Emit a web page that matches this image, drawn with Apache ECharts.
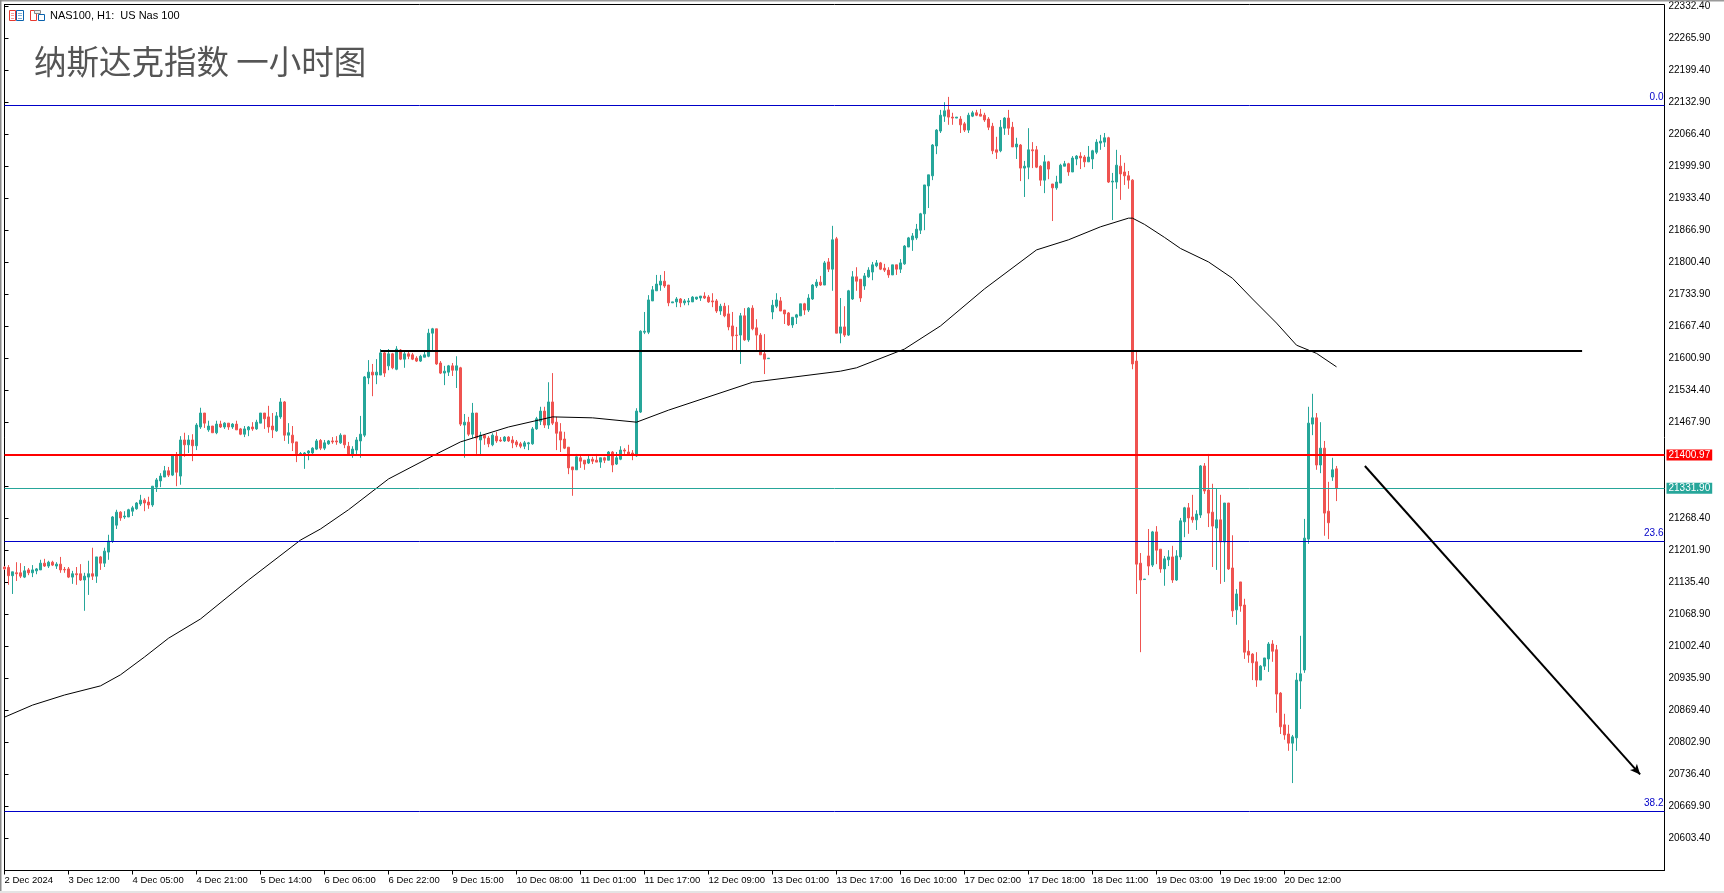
<!DOCTYPE html>
<html><head><meta charset="utf-8">
<style>html,body{margin:0;padding:0;background:#fff;overflow:hidden}#c{width:1724px;height:893px}</style>
<script src="https://cdn.jsdelivr.net/npm/echarts@6/dist/echarts.min.js"></script>
</head><body><div id="c"></div>
<script>
const opens=[
21168,21167,21150,21156,21156,21147,21162,21156,21160,21162,
21176,21170,21178,21170,21174,21163,21164,21147,21154,21154,
21141,21147,21154,21149,21189,21176,21199,21222,21255,21282,
21272,21272,21284,21289,21299,21307,21303,21297,21334,21347,
21355,21368,21359,21399,21357,21432,21422,21432,21420,21459,
21488,21453,21461,21447,21465,21459,21467,21459,21465,21455,
21444,21453,21459,21455,21467,21488,21480,21461,21451,21480,
21511,21442,21442,21428,21402,21402,21405,21405,21413,21431,
21415,21424,21430,21430,21426,21442,21419,21403,21411,21430,
21442,21561,21573,21567,21567,21613,21586,21611,21579,21619,
21600,21611,21609,21602,21596,21604,21606,21654,21663,21592,
21571,21573,21586,21577,21582,21463,21469,21444,21488,21432,
21442,21436,21422,21440,21432,21430,21438,21432,21428,21424,
21419,21424,21424,21455,21471,21492,21463,21511,21469,21449,
21434,21417,21376,21370,21395,21390,21384,21392,21390,21386,
21395,21390,21407,21382,21392,21411,21407,21405,21399,21490,
21656,21656,21721,21742,21754,21762,21754,21717,21719,21725,
21717,21719,21719,21725,21727,21731,21729,21721,21721,21700,
21710,21694,21669,21650,21650,21690,21640,21706,21665,21650,
21611,21601,21698,21710,21721,21702,21696,21671,21687,21690,
21715,21702,21725,21752,21760,21754,21802,21787,21850,21654,
21667,21650,21725,21771,21766,21752,21771,21781,21794,21800,
21789,21785,21775,21796,21787,21798,21833,21848,21852,21868,
21902,21960,21981,22043,22074,22105,22118,22103,22101,22099,
22089,22076,22105,22112,22109,22107,22099,22084,22035,22033,
22080,22101,22082,22041,22045,21997,21999,22035,22035,22001,
21972,22010,21964,21956,21966,22001,22006,21989,22016,22022,
22020,22010,22016,22030,22049,22051,22060,21968,21968,22001,
21989,21981,21972,21596,21176,21142,21191,21172,21241,21205,
21164,21183,21189,21141,21189,21262,21291,21272,21266,21276,
21378,21328,21282,21249,21266,21220,21301,21166,21079,21137,
21089,20993,20987,20971,20933,20962,20977,21008,20996,20906,
20840,20821,20802,20813,20931,20954,21226,21465,21478,21380,
21415,21284,21355,21372];
const closes=[
21164,21150,21158,21154,21149,21160,21156,21162,21164,21176,
21170,21178,21172,21174,21162,21162,21147,21154,21152,21141,
21149,21154,21149,21189,21176,21201,21222,21272,21282,21270,
21274,21287,21291,21301,21307,21301,21297,21336,21349,21357,
21368,21359,21399,21365,21432,21422,21432,21420,21463,21488,
21467,21461,21447,21465,21459,21467,21459,21465,21453,21444,
21455,21459,21455,21469,21488,21476,21459,21453,21482,21511,
21442,21447,21426,21403,21404,21405,21409,21415,21430,21415,
21426,21430,21428,21428,21442,21422,21403,21413,21432,21444,
21563,21573,21567,21573,21613,21571,21611,21582,21621,21600,
21611,21606,21600,21596,21606,21609,21654,21663,21590,21571,
21575,21586,21577,21586,21465,21469,21444,21488,21436,21442,
21436,21424,21442,21430,21430,21438,21430,21426,21422,21419,
21426,21426,21455,21476,21492,21463,21511,21467,21446,21432,
21415,21374,21370,21397,21388,21382,21392,21388,21386,21395,
21390,21407,21380,21395,21411,21409,21401,21401,21492,21658,
21658,21723,21744,21756,21762,21752,21717,21719,21725,21717,
21721,21721,21729,21729,21731,21727,21719,21719,21700,21710,
21690,21667,21648,21649,21690,21640,21706,21663,21650,21609,
21600,21602,21712,21723,21700,21694,21671,21687,21692,21715,
21702,21727,21754,21760,21754,21800,21787,21848,21654,21667,
21650,21742,21771,21762,21727,21773,21785,21796,21800,21787,
21785,21775,21796,21787,21800,21835,21852,21856,21870,21902,
21962,21983,22045,22076,22107,22116,22103,22101,22103,22087,
22076,22107,22112,22107,22105,22097,22082,22033,22030,22082,
22101,22080,22041,22047,21997,22001,22035,22033,21999,21972,
22010,21995,21956,21968,22003,22006,21989,22018,22022,22018,
22010,22020,22033,22051,22053,22060,21968,21970,22003,21985,
21981,21972,21590,21174,21141,21143,21170,21241,21203,21164,
21185,21189,21141,21191,21264,21291,21270,21266,21278,21378,
21326,21280,21253,21266,21220,21301,21164,21077,21112,21087,
20991,20985,20969,20933,20962,20979,21008,20993,20904,20836,
20819,20802,20815,20933,20946,21228,21467,21478,21380,21415,
21280,21260,21370,21332];
const highs=[
21170,21172,21158,21178,21176,21170,21166,21172,21166,21183,
21185,21181,21181,21178,21189,21168,21168,21160,21168,21174,
21156,21181,21208,21189,21191,21208,21235,21274,21287,21284,
21284,21289,21295,21303,21318,21311,21314,21336,21353,21363,
21378,21376,21399,21407,21440,21447,21442,21444,21467,21499,
21488,21472,21461,21472,21472,21469,21467,21467,21472,21457,
21461,21461,21469,21474,21488,21488,21503,21488,21490,21519,
21513,21467,21461,21428,21407,21407,21411,21417,21434,21434,
21432,21432,21438,21440,21446,21442,21428,21419,21438,21482,
21565,21598,21590,21600,21621,21615,21621,21613,21627,21621,
21615,21617,21613,21606,21609,21619,21663,21665,21663,21596,
21586,21588,21592,21606,21584,21486,21480,21509,21488,21449,
21444,21440,21446,21449,21438,21440,21440,21440,21432,21428,
21430,21428,21459,21480,21501,21501,21552,21571,21480,21467,
21449,21417,21376,21403,21401,21390,21401,21397,21403,21395,
21397,21409,21409,21407,21419,21415,21422,21411,21498,21660,
21698,21733,21752,21775,21775,21783,21754,21719,21729,21727,
21725,21727,21731,21729,21731,21739,21733,21737,21725,21715,
21717,21712,21698,21667,21696,21706,21708,21712,21683,21654,
21652,21602,21723,21737,21729,21702,21698,21687,21694,21715,
21717,21735,21756,21766,21773,21804,21810,21877,21854,21727,
21710,21744,21783,21791,21766,21779,21791,21802,21806,21802,
21798,21791,21796,21796,21808,21837,21854,21862,21881,21904,
21962,21983,22047,22078,22118,22134,22145,22112,22103,22105,
22093,22112,22116,22118,22120,22112,22103,22091,22062,22097,
22103,22118,22093,22060,22047,22012,22080,22051,22043,22003,
22024,22012,21964,21981,22006,22012,22008,22022,22024,22030,
22024,22043,22035,22057,22066,22070,22062,21987,22035,22024,
22008,21991,21974,21619,21197,21143,21247,21243,21253,21205,
21191,21203,21212,21203,21270,21293,21301,21318,21286,21380,
21384,21403,21341,21332,21318,21301,21301,21234,21122,21137,
21102,21016,20989,20991,20964,20979,21012,21016,21006,20908,
20863,20840,20819,20948,21025,21268,21501,21528,21488,21469,
21430,21345,21395,21378];
const lows=[
21162,21131,21112,21139,21145,21145,21151,21147,21153,21162,
21168,21166,21170,21164,21156,21156,21145,21133,21131,21139,
21077,21110,21141,21135,21162,21168,21183,21218,21247,21264,
21268,21272,21274,21287,21295,21284,21289,21293,21324,21334,
21355,21355,21357,21336,21339,21397,21405,21388,21411,21455,
21457,21449,21447,21444,21457,21455,21453,21455,21453,21442,
21438,21440,21451,21453,21467,21455,21447,21436,21449,21476,
21430,21424,21409,21386,21401,21372,21390,21403,21411,21411,
21411,21422,21424,21422,21424,21415,21403,21395,21403,21395,
21438,21548,21523,21548,21567,21563,21577,21579,21577,21598,
21582,21600,21598,21594,21594,21604,21604,21619,21588,21569,
21546,21565,21565,21540,21461,21395,21440,21436,21403,21399,
21422,21417,21419,21426,21428,21428,21428,21415,21417,21415,
21413,21411,21422,21453,21463,21457,21455,21463,21411,21407,
21413,21361,21316,21370,21374,21370,21382,21382,21386,21374,
21384,21390,21365,21380,21390,21403,21399,21390,21397,21488,
21652,21652,21721,21742,21742,21748,21710,21717,21708,21708,
21712,21712,21719,21723,21721,21725,21717,21708,21696,21692,
21687,21660,21615,21617,21590,21638,21636,21660,21619,21609,
21569,21601,21683,21706,21700,21673,21669,21665,21673,21690,
21692,21698,21723,21748,21752,21754,21781,21742,21654,21633,
21646,21648,21723,21742,21719,21744,21769,21764,21791,21785,
21781,21769,21775,21775,21779,21796,21833,21825,21848,21860,
21868,21914,21972,22026,22070,22093,22087,22087,22101,22070,
22072,22070,22103,22105,22105,22093,22076,22026,22016,22030,
22066,22066,22041,22016,21970,21937,21974,21997,21997,21960,
21945,21974,21887,21952,21966,22001,21981,21989,22003,21995,
21999,22010,21995,22026,22035,22041,21966,21889,21954,21931,
21962,21954,21579,21112,20991,21142,21151,21168,21174,21156,
21129,21170,21135,21139,21183,21230,21237,21260,21245,21270,
21320,21251,21168,21162,21133,21137,21162,21064,21048,21075,
20977,20969,20933,20919,20933,20954,20950,20971,20865,20821,
20809,20786,20719,20786,20873,20948,21216,21442,21370,21363,
21233,21226,21347,21305];

const maBars=[0,7,15,24,29,35,41,49,61,74,79,86,96,108,114,126,137,147,158,166,187,209,213,225,234,245,258,266,274,281,282,285,290,294,301,307,312,318,323,328,333];
const maValues=[20856,20881,20902,20921,20944,20981,21020,21060,21141,21224,21247,21287,21351,21403,21428,21459,21480,21478,21469,21494,21552,21575,21582,21621,21669,21746,21827,21848,21875,21893,21893,21880,21853,21830,21802,21768,21725,21675,21629,21612,21584];

const priceTicks=[22332.4,22265.9,22199.4,22132.9,22066.4,21999.9,21933.4,21866.9,21800.4,21733.9,21667.4,21600.9,21534.4,21467.9,21401.4,21334.9,21268.4,21201.9,21135.4,21068.9,21002.4,20935.9,20869.4,20802.9,20736.4,20669.9,20603.4];
const coveredTicks=[21401.4,21334.9];
const timeLabels=['2 Dec 2024','3 Dec 12:00','4 Dec 05:00','4 Dec 21:00','5 Dec 14:00','6 Dec 06:00','6 Dec 22:00','9 Dec 15:00','10 Dec 08:00','11 Dec 01:00','11 Dec 17:00','12 Dec 09:00','13 Dec 01:00','13 Dec 17:00','16 Dec 10:00','17 Dec 02:00','17 Dec 18:00','18 Dec 11:00','19 Dec 03:00','19 Dec 19:00','20 Dec 12:00'];
const barsPerLabel=16;

const fibLevels=[['0.0',22127],['23.6',21222],['38.2',20661]];
const resistance=21400.97, lastPrice=21331.90;
const supportLine=[[94,21617.5],[394.4,21617.5]];
const arrowLine=[[340.1,21378],[408.9,20737]];

const UP='#26a69a', DOWN='#ef5350', FIB='#0000c8';
const FONT='"Liberation Sans", Arial, sans-serif';
const candles=opens.map((o,i)=>[i,o,closes[i],lows[i],highs[i]]);
const ma=maBars.map((b,i)=>[b,maValues[i]]);
const timeTicks=timeLabels.map((_,i)=>i*barsPerLabel);

function rect(x,y,w,h,fill,stroke){return {type:'rect',shape:{x,y,width:w,height:h},z:100,silent:true,style:{fill:fill||'none',stroke:stroke||'none',lineWidth:1}};}
const tag=(v,bg)=>({yAxis:v,lineStyle:{color:v===resistance?'#ff0000':'#26a69a',width:v===resistance?2:1,type:'solid'},
  label:{show:true,position:'end',distance:2,formatter:v.toFixed(2),color:'#fff',backgroundColor:bg,padding:[1,2,0,2],fontFamily:FONT,fontSize:10}});

const chart=echarts.init(document.getElementById('c'),null,{renderer:'canvas'});
chart.setOption({
  animation:false,
  backgroundColor:'#fff',
  title:{text:'纳斯达克指数 一小时图',left:29,top:40,textStyle:{fontFamily:'"Noto Sans CJK SC"',fontSize:32.5,fontWeight:400,color:'#555555'}},
  grid:{left:4.5,top:4.5,width:1660,height:866,show:true,borderColor:'#000',borderWidth:1,backgroundColor:'#fff'},
  xAxis:{type:'value',min:0,max:415,
    axisLine:{show:true,lineStyle:{color:'#000',width:1}},
    axisTick:{show:true,length:4,inside:false,customValues:timeTicks,lineStyle:{color:'#000'}},
    axisLabel:{show:true,customValues:timeTicks,margin:5,align:'left',color:'#000',fontFamily:FONT,fontSize:9.5,hideOverlap:false,
      formatter:v=>timeLabels[v/barsPerLabel]},
    splitLine:{show:false}},
  yAxis:{type:'value',position:'right',min:20537.3,max:22337,
    axisLine:{show:true,lineStyle:{color:'#000',width:1}},
    axisTick:{show:true,length:4,inside:false,customValues:priceTicks,lineStyle:{color:'#000'}},
    axisLabel:{show:true,customValues:priceTicks.filter(v=>!coveredTicks.includes(v)),margin:4,color:'#000',fontFamily:FONT,fontSize:10,hideOverlap:false,
      showMinLabel:true,showMaxLabel:true,formatter:v=>v.toFixed(2)},
    splitLine:{show:false}},
  series:[
    {type:'candlestick',name:'NAS100',data:candles,barWidth:2,
     itemStyle:{color:UP,color0:DOWN,borderColor:UP,borderColor0:DOWN,borderWidth:1},
     markLine:{silent:true,symbol:'none',animation:false,precision:4,
       data:[
         ...fibLevels.map(([t,v])=>({yAxis:v,lineStyle:{color:FIB,width:1,type:'solid'},
           label:{show:true,position:'insideEndTop',distance:[1,3],formatter:t,color:FIB,fontFamily:FONT,fontSize:10,padding:0}})),
         tag(lastPrice,'#26a69a'),
         tag(resistance,'#ff0000'),
         [{coord:supportLine[0],lineStyle:{color:'#000',width:2,type:'solid'},label:{show:false}},{coord:supportLine[1]}],
         [{coord:arrowLine[0],symbol:'none',lineStyle:{color:'#000',width:2,type:'solid'},label:{show:false}},{coord:arrowLine[1],symbol:'arrow',symbolSize:[7,10]}]
       ]}},
    {type:'line',name:'MA',data:ma,symbol:'none',smooth:false,lineStyle:{color:'#000',width:1},z:4}
  ],
  graphic:[
    rect(0,0,1724,1.5,'#9a9a9a'),
    rect(0,0,1.5,893,'#8a8a8a'),
    rect(0,891,1724,2,'#e4e4e4'),
    rect(9.5,10.5,6,10,'#fff','#e8392f'),
    rect(11,13,3,0.5,'#e8392f'),rect(11,15.5,3,0.5,'#e8392f'),rect(11,18,3,0.5,'#e8392f'),
    rect(16.5,10.5,7,10,'#fff','#0a62ad'),
    rect(18,13,4,0.5,'#0a62ad'),rect(18,15.5,4,0.5,'#0a62ad'),rect(18,18,4,0.5,'#0a62ad'),
    rect(30.5,10.5,6,10,'#fff','#e8392f'),
    rect(38.5,14.5,6,6,'#fff','#0a62ad'),
    rect(34.5,10.5,6,3,'#eee','#888'),
    {type:'text',x:50,y:16,z:100,silent:true,style:{text:'NAS100, H1:  US Nas 100',fontFamily:FONT,fontSize:11,fill:'#000',textVerticalAlign:'middle'}}
  ]
});
</script></body></html>
